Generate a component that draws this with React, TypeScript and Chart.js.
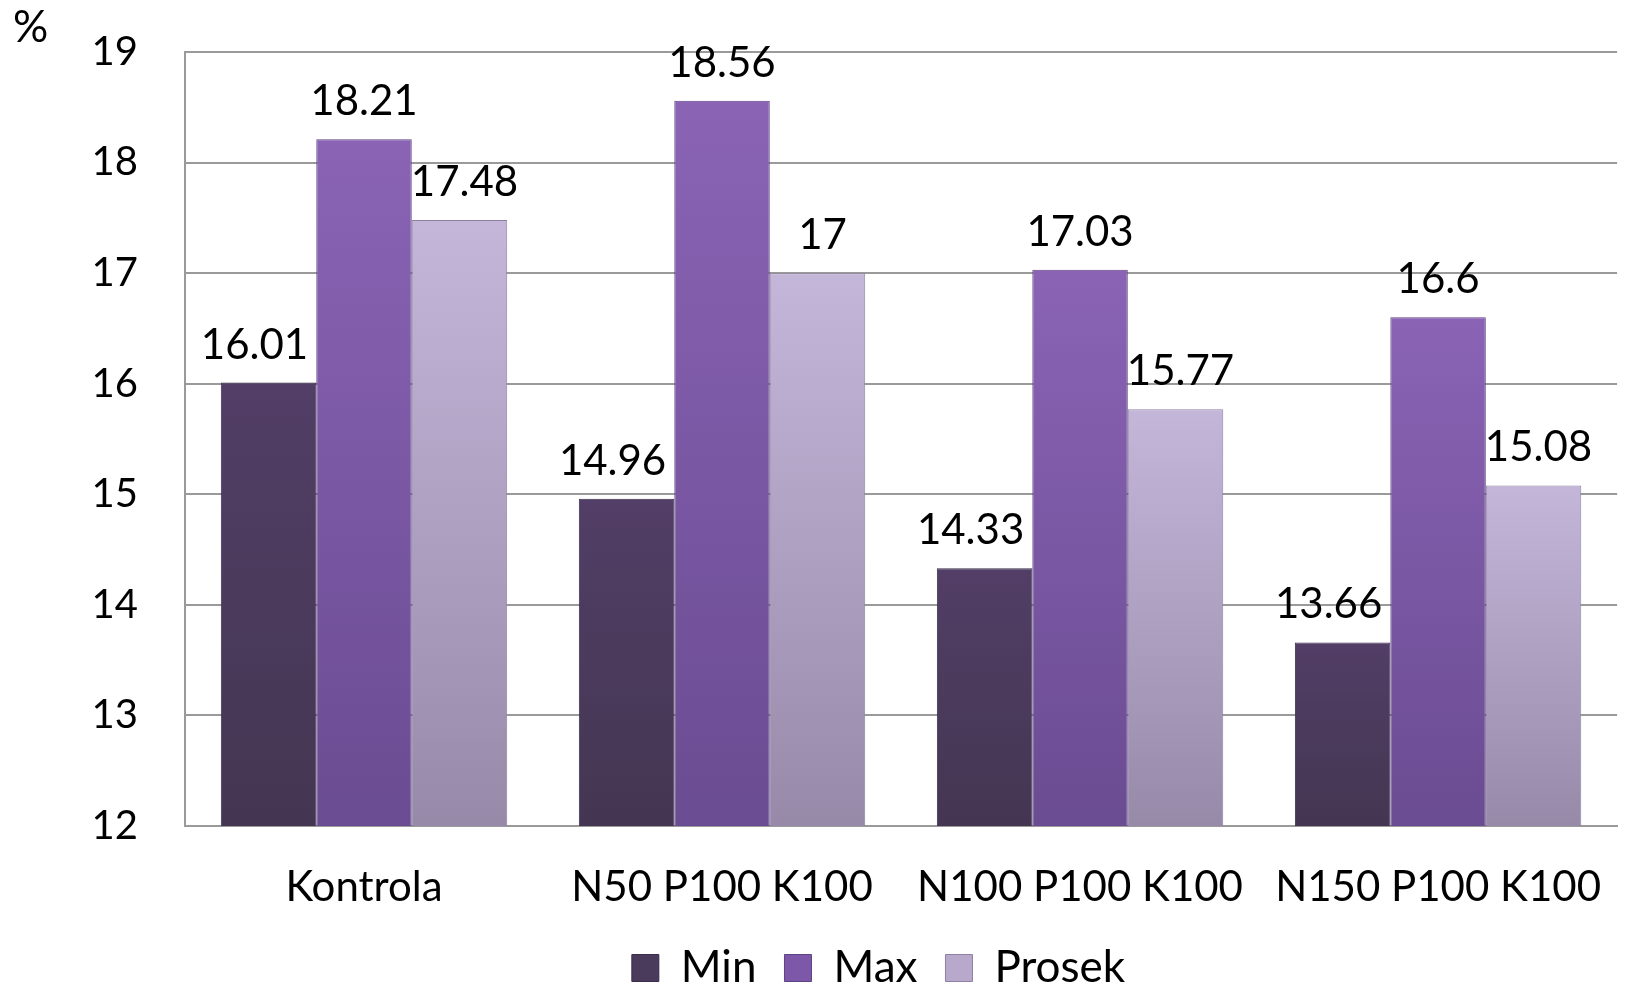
import React, { useEffect, useRef } from "react";
import { Chart, registerables } from "chart.js";

Chart.register(...registerables);

const categories = ["Kontrola", "N50 P100 K100", "N100 P100 K100", "N150 P100 K100"];
const seriesNames = ["Min", "Max", "Prosek"];
const minValues = [16.01, 14.96, 14.33, 13.66];
const maxValues = [18.21, 18.56, 17.03, 16.6];
const prosekValues = [17.48, 17, 15.77, 15.08];
const yTicks = [12, 13, 14, 15, 16, 17, 18, 19];

const solidColors = ["#4a3a5c", "#7d58a8", "#b8a9cc"];
const topColors = ["#523e66", "#8a63b5", "#c4b6d9"];
const bottomColors = ["#443652", "#6a4c92", "#978aa9"];
const edgeColors = ["#3a2d4a", "#5e4384", "#8e80a2"];
const labelShiftX = [-14, 0, 5];

const FONT = "Lato, 'Open Sans', sans-serif";
const CANVAS_W = 1637;
const CANVAS_H = 1000;

function gradientFor(i: number) {
  return (ctx: any) => {
    const chart = ctx.chart;
    const area = chart.chartArea;
    if (!area || ctx.type !== "data" || ctx.parsed == null) return solidColors[i];
    const yScale = chart.scales.y;
    const top = yScale.getPixelForValue(ctx.parsed.y);
    const g = chart.ctx.createLinearGradient(0, top, 0, area.bottom);
    g.addColorStop(0, topColors[i]);
    g.addColorStop(1, bottomColors[i]);
    return g;
  };
}

const valueLabels = {
  id: "valueLabels",
  afterDatasetsDraw(chart: any) {
    const c = chart.ctx;
    c.save();
    c.font = `42px ${FONT}`;
    c.fillStyle = "#000";
    c.textAlign = "center";
    c.textBaseline = "alphabetic";
    chart.data.datasets.forEach((ds: any, di: number) => {
      const meta = chart.getDatasetMeta(di);
      meta.data.forEach((el: any, i: number) => {
        c.fillText(String(ds.data[i]), el.x + labelShiftX[di], el.y - 24);
      });
    });
    c.restore();
  },
};

const unitLabel = {
  id: "unitLabel",
  afterDraw(chart: any) {
    const c = chart.ctx;
    c.save();
    c.font = `44px ${FONT}`;
    c.fillStyle = "#000";
    c.textAlign = "left";
    c.textBaseline = "alphabetic";
    c.fillText("%", 13, 42);
    c.restore();
  },
};

const legendShift = {
  id: "legendShift",
  afterLayout(chart: any) {
    const l = chart.legend;
    if (l) {
      l.left += 60;
      l.right += 60;
    }
  },
};

export default function App() {
  const ref = useRef<HTMLCanvasElement | null>(null);
  useEffect(() => {
    if (!ref.current) return;
    const data = [minValues, maxValues, prosekValues];
    const chart = new Chart(ref.current, {
      type: "bar",
      data: {
        labels: categories,
        datasets: seriesNames.map((name, i) => ({
          label: name,
          data: data[i],
          backgroundColor: gradientFor(i),
          borderColor: edgeColors[i],
          borderWidth: 1,
          categoryPercentage: 0.8,
          barPercentage: 1.0,
        })),
      },
      options: {
        responsive: false,
        animation: false,
        layout: { padding: { top: 52, right: 0, bottom: 0, left: 0 } },
        plugins: {
          tooltip: { enabled: false },
          legend: {
            position: "bottom",
            labels: {
              font: { family: FONT, size: 44 },
              color: "#000",
              boxWidth: 27,
              boxHeight: 27,
              padding: 28,
              generateLabels: (chart: any) =>
                chart.data.datasets.map((ds: any, i: number) => ({
                  text: ds.label,
                  fillStyle: solidColors[i],
                  strokeStyle: edgeColors[i],
                  lineWidth: 1,
                  datasetIndex: i,
                  hidden: false,
                })),
            },
          },
        },
        scales: {
          x: {
            afterFit: (scale: any) => {
              scale.height = 92;
            },
            grid: { display: false, drawTicks: false },
            border: { color: "#9a9a9a", width: 2 },
            ticks: {
              font: { family: FONT, size: 42 },
              color: "#000",
              padding: 36,
              maxRotation: 0,
              autoSkip: false,
            },
          },
          y: {
            min: 12,
            max: 19,
            afterFit: (scale: any) => {
              scale.width = 185;
            },
            afterBuildTicks: (scale: any) => {
              scale.ticks = yTicks.map((v) => ({ value: v }));
            },
            grid: {
              color: "#9a9a9a",
              lineWidth: 2,
              drawTicks: true,
              tickLength: 47,
              tickColor: "rgba(0,0,0,0)",
            },
            border: { color: "#9a9a9a", width: 2 },
            ticks: {
              font: { family: FONT, size: 40 },
              color: "#000",
              padding: 0,
            },
          },
        },
      },
      plugins: [valueLabels, unitLabel, legendShift],
    });
    return () => chart.destroy();
  }, []);
  return (
    <div
      style={{
        position: "fixed",
        left: 0,
        top: 0,
        width: CANVAS_W,
        height: 986,
        overflow: "hidden",
        background: "#fff",
      }}
    >
      <canvas ref={ref} width={CANVAS_W} height={CANVAS_H} style={{ display: "block" }} />
    </div>
  );
}
